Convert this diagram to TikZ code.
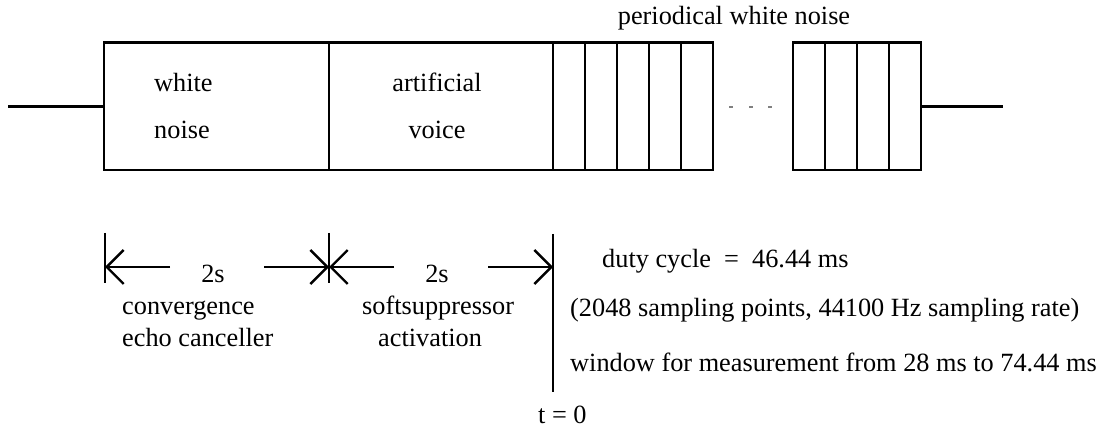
\documentclass[tikz,border=0pt]{standalone}
\usepackage{fontspec}
\setmainfont{Liberation Serif}
\usetikzlibrary{arrows.meta}
\begin{document}
\begin{tikzpicture}[x=1pt,y=-1pt,
  wire/.style={line width=2.4pt},
  seg/.style={draw, line width=2.4pt, rectangle, minimum height=127.6pt, inner sep=0pt, outer sep=0pt},
  cell/.style={seg, minimum width=32pt},
  lbl/.style={font=\fontsize{26.3}{30}\selectfont, inner sep=0pt},
  dimline/.style={line width=2.4pt, -{Straight Barb[length=17pt,width=34pt]}},
  tickline/.style={line width=2.4pt},
  gap/.style={gray, line width=1.4pt}
]
\useasboundingbox (0,0) rectangle (1101,430);

% main blocks
\node[seg, minimum width=225pt] (wn) at (216.5,106.5) {};
\node[seg, minimum width=224pt] (av) at (441,106.5) {};
\foreach \i/\x in {1/569,2/601,3/633,4/665,5/697,6/809,7/841,8/873,9/905}
  \node[cell] (c\i) at (\x,106.5) {};

% wires
\coordinate (lin) at (8,106.5);
\coordinate (rout) at (1003,106.5);
\draw[wire] (lin) -- (wn.west);
\draw[wire] (c9.east) -- (rout);

% gap dashes
\draw[gap] (729,107) -- (733,107);
\draw[gap] (749,107) -- (753,107);
\draw[gap] (768,107) -- (772,107);

% block labels
\node[lbl, anchor=base] (pwn) at (734,25) {periodical white noise};
\node[lbl, anchor=base west] (w1) at (154,92) {white};
\node[lbl, anchor=base west] (w2) at (154,139) {noise};
\node[lbl, anchor=base] (v1) at (437,92) {artificial};
\node[lbl, anchor=base] (v2) at (437,139) {voice};

% ticks
\coordinate (k0t) at (105,233);
\coordinate (k0b) at (105,283);
\coordinate (k1t) at (329,233);
\coordinate (k1b) at (329,283);
\coordinate (k2t) at (553,234);
\coordinate (k2b) at (553,392);
\draw[tickline] (k0t) -- (k0b);
\draw[tickline] (k1t) -- (k1b);
\draw[tickline] (k2t) -- (k2b);

% dimension arrows
\coordinate (a1) at (170,267);
\coordinate (a1e) at (105,267);
\coordinate (a2) at (264,267);
\coordinate (a2e) at (329,267);
\coordinate (a3) at (394,267);
\coordinate (a3e) at (329,267);
\coordinate (a4) at (488,267);
\coordinate (a4e) at (553,267);
\draw[dimline] (a1) -- (a1e);
\draw[dimline] (a2) -- (a2e);
\draw[dimline] (a3) -- (a3e);
\draw[dimline] (a4) -- (a4e);

\node[lbl, anchor=base] (d1) at (213,283) {2s};
\node[lbl, anchor=base] (d2) at (437,283) {2s};
\node[lbl, anchor=base west] (e1) at (122,315) {convergence};
\node[lbl, anchor=base west] (e2) at (122,347) {echo canceller};
\node[lbl, anchor=base west] (s1) at (362,315) {softsuppressor};
\node[lbl, anchor=base west] (s2) at (378,347) {activation};

\node[lbl, anchor=base west] (dc) at (602,268) {duty cycle\ \ =\ \ 46.44 ms};
\node[lbl, anchor=base west] (sp) at (570,317) {(2048 sampling points, 44100 Hz sampling rate)};
\node[lbl, anchor=base west] (wm) at (570,372) {window for measurement from 28 ms to 74.44 ms};
\node[lbl, anchor=base west] (t0) at (538,424) {t = 0};
\end{tikzpicture}
\end{document}
